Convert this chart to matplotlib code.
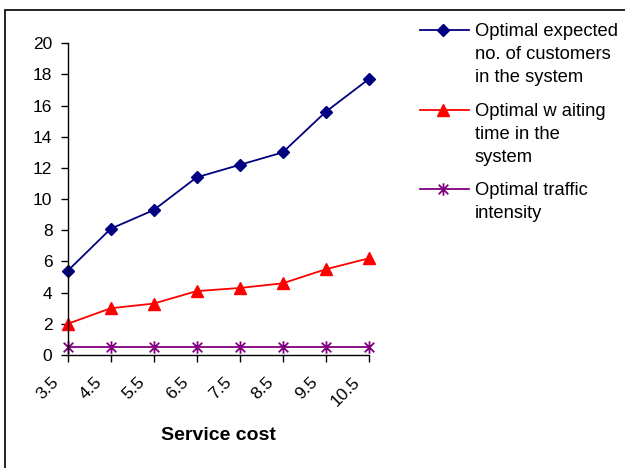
import matplotlib
matplotlib.use("Agg")
import matplotlib.pyplot as plt
import matplotlib.transforms as mtransforms
from matplotlib.path import Path
from matplotlib.patches import Rectangle
from matplotlib.lines import Line2D

plt.rcParams['font.family'] = ['Liberation Sans', 'DejaVu Sans']

service_cost = ["3.5", "4.5", "5.5", "6.5", "7.5", "8.5", "9.5", "10.5"]
expected_customers = [5.4, 8.1, 9.3, 11.4, 12.2, 13.0, 15.6, 17.7]
waiting_time = [2.0, 3.0, 3.3, 4.1, 4.3, 4.6, 5.5, 6.2]
traffic_intensity = [0.5, 0.5, 0.5, 0.5, 0.5, 0.5, 0.5, 0.5]

labels = [
    "Optimal expected\nno. of customers\nin the system",
    "Optimal w aiting\ntime in the\nsystem",
    "Optimal traffic\nintensity",
]

# asterisk marker: an X crossed by a vertical stroke
star = Path(
    [(-1, -1), (1, 1), (-1, 1), (1, -1), (0, -1.3), (0, 1.3)],
    [Path.MOVETO, Path.LINETO, Path.MOVETO, Path.LINETO, Path.MOVETO, Path.LINETO],
)

W, H = 625, 468
fig = plt.figure(figsize=(W / 100, H / 100), dpi=100)


def fx(px):
    return px / W


def fy(py):
    return 1 - py / H


# outer chart frame
fig.patches.append(Rectangle((fx(5), -0.1), 1.2, fy(10) + 0.1,
                             transform=fig.transFigure, fill=False,
                             edgecolor='black', linewidth=1.2))

ax = fig.add_axes([fx(67.7), fy(355), fx(368.7) - fx(67.7), fy(43.3) - fy(355)])
x = list(range(len(service_cost)))

styles = [
    dict(color='#000080', marker='D', markersize=6.5),
    dict(color='#FF0000', marker='^', markersize=8.5),
    dict(color='#800080', marker=star, markersize=9, markeredgewidth=1.3),
]
series = [expected_customers, waiting_time, traffic_intensity]

for vals, st, lab in zip(series, styles, labels):
    ax.plot(x, vals, linewidth=1.3, clip_on=False, label=lab, **st)

ax.set_xlim(0, len(service_cost) - 1)
ax.set_ylim(0, 20)
ax.set_yticks(range(0, 21, 2))
ax.set_xticks(x)
ax.set_xticklabels(service_cost, rotation=45, ha='right', va='center',
                   rotation_mode='anchor')
ax.tick_params(axis='both', direction='out', length=5, width=1, labelsize=12.5,
               colors='black')
ax.tick_params(axis='y', pad=6)
ax.tick_params(axis='x', pad=13)
shift = mtransforms.ScaledTranslation(-0.11, 0, fig.dpi_scale_trans)
for lbl in ax.get_xticklabels():
    lbl.set_transform(lbl.get_transform() + shift)
ax.spines['top'].set_visible(False)
ax.spines['right'].set_visible(False)
ax.spines['left'].set_linewidth(1)
ax.spines['bottom'].set_linewidth(1)

ax.set_xlabel("Service cost", fontsize=14, fontweight='bold', labelpad=13)

# legend: handle sits beside the first line of each wrapped label
entry_top = [30, 110, 188.5]
line_gap = 23
for top, st, lab in zip(entry_top, styles, labels):
    fig.add_artist(Line2D([fx(420.5), fx(469)], [fy(top), fy(top)],
                          color=st['color'], linewidth=1.3,
                          transform=fig.transFigure))
    fig.add_artist(Line2D([fx(443)], [fy(top)], linestyle='none',
                          transform=fig.transFigure, **st))
    for i, part in enumerate(lab.split("\n")):
        fig.text(fx(475), fy(top + i * line_gap + 6), part, fontsize=13.2,
                 ha='left', va='baseline')

fig.savefig("out.png", dpi=100)
